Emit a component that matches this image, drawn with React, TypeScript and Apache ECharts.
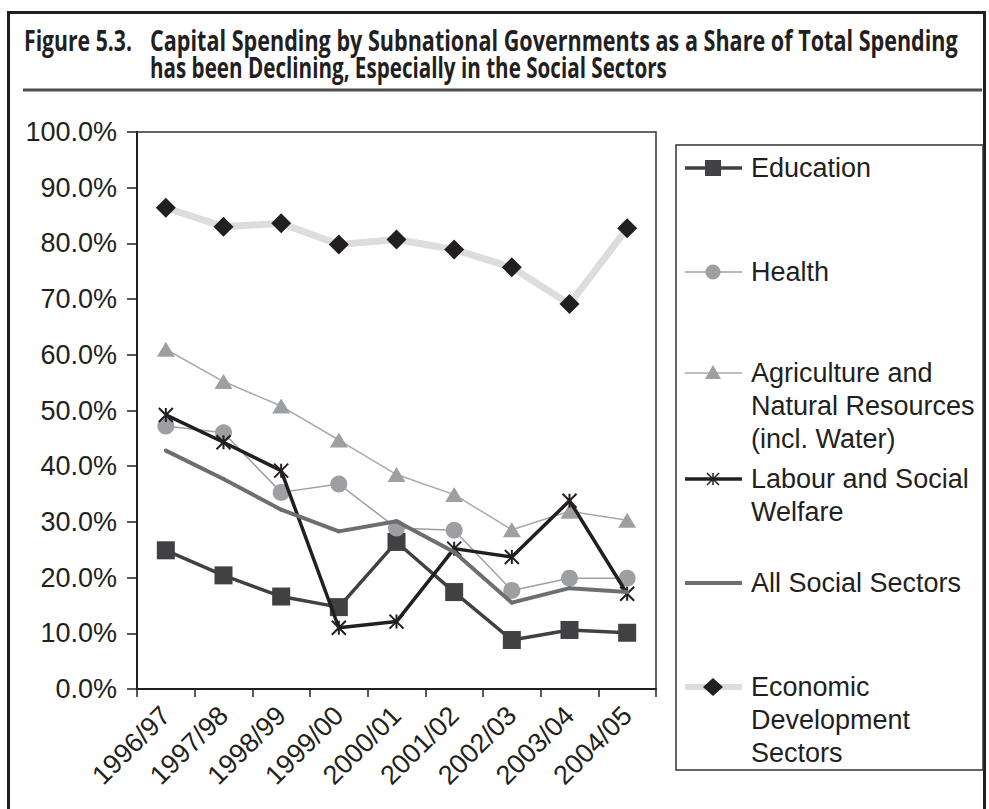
import React, { useEffect, useRef } from "react";
import * as echarts from "echarts";

const categories = ["1996/97", "1997/98", "1998/99", "1999/00", "2000/01", "2001/02", "2002/03", "2003/04", "2004/05"];
const education = [24.9, 20.4, 16.6, 14.7, 26.4, 17.4, 8.8, 10.6, 10.1];
const health = [47.2, 46.0, 35.3, 36.8, 28.9, 28.5, 17.7, 19.9, 19.9];
const agriculture = [61.0, 55.2, 50.8, 44.7, 38.5, 34.9, 28.6, 31.9, 30.3];
const labour = [49.2, 44.3, 39.2, 11.0, 12.1, 25.2, 23.7, 33.8, 17.1];
const allSocial = [42.8, 37.7, 32.2, 28.3, 30.1, 24.6, 15.5, 18.1, 17.4];
const economic = [86.4, 83.0, 83.6, 79.8, 80.7, 78.9, 75.7, 69.1, 82.7];

const seriesNames = [
  "Education",
  "Health",
  "Agriculture and Natural Resources (incl. Water)",
  "Labour and Social Welfare",
  "All Social Sectors",
  "Economic Development Sectors",
];
const legendLines = [
  ["Education"],
  ["Health"],
  ["Agriculture and", "Natural Resources", "(incl. Water)"],
  ["Labour and Social", "Welfare"],
  ["All Social Sectors"],
  ["Economic", "Development", "Sectors"],
];

const titleLead = "Figure 5.3.";
const titleLine1 = "Capital Spending by Subnational Governments as a Share of Total Spending";
const titleLine2 = "has been Declining, Especially in the Social Sectors";

const ASTERISK = "path://M0,0L10,10M0,10L10,0M5,0L5,10";
const FONT = "Liberation Sans, Arial, Helvetica, sans-serif";
const TXT = "#231f20";

export default function App() {
  const ref = useRef<HTMLDivElement>(null);
  useEffect(() => {
    document.body.style.margin = "0";
    const chart = echarts.init(ref.current!, null, { renderer: "svg" });

    const titleFont = 'bold 28px "Open Sans"';
    let sx1 = 0.75;
    let sx2 = 0.75;
    let sxLead = 0.75;
    try {
      const ctx = document.createElement("canvas").getContext("2d")!;
      ctx.font = titleFont;
      const w1 = ctx.measureText(titleLine1).width;
      if (w1 > 0) sx1 = 808 / w1;
      const w2 = ctx.measureText(titleLine2).width;
      if (w2 > 0) sx2 = 517 / w2;
      const wl = ctx.measureText(titleLead).width;
      if (wl > 0) sxLead = 108 / wl;
    } catch (e) {}

    const styles = [
      { line: "#414042", width: 3.5, marker: "#414042", symbol: "rect", size: 18 },
      { line: "#9d9fa2", width: 1.5, marker: "#9d9fa2", symbol: "circle", size: 17 },
      { line: "#a7a9ac", width: 1.5, marker: "#9d9fa2", symbol: "triangle", size: [18, 15] },
      { line: "#231f20", width: 3.5, marker: "#231f20", symbol: ASTERISK, size: 14 },
      { line: "#6d6e71", width: 4, marker: "#6d6e71", symbol: "circle", size: 4 },
      { line: "#dcdddf", width: 7, marker: "#231f20", symbol: "diamond", size: 20 },
    ];
    const datas = [education, health, agriculture, labour, allSocial, economic];

    const series = datas.map((d, i) => {
      const s = styles[i];
      const isAst = s.symbol === ASTERISK;
      return {
        name: seriesNames[i],
        type: "line",
        data: d,
        symbol: s.symbol,
        symbolSize: s.size,
        showSymbol: true,
        lineStyle: { color: s.line, width: s.width },
        itemStyle: isAst
          ? { color: s.marker, borderColor: s.marker, borderWidth: 2 }
          : { color: s.marker, borderWidth: 0 },
        z: 2 + i,
      };
    });

    const lg: any[] = [];
    lg.push({
      type: "rect",
      shape: { x: 676, y: 145, width: 307, height: 625 },
      style: { fill: "#fff", stroke: "#333", lineWidth: 1.5 },
      z: 1,
    });
    const iconY = [168, 272, 373, 479, 583, 687];
    const mx = 713;
    iconY.forEach((y, i) => {
      const s = styles[i];
      lg.push({
        type: "line",
        shape: { x1: 685, y1: y, x2: 742, y2: y },
        style: { stroke: s.line, lineWidth: i === 5 ? 6 : s.width },
        z: 2,
      });
      if (i === 0) {
        lg.push({ type: "rect", shape: { x: mx - 8, y: y - 8, width: 16, height: 16 }, style: { fill: s.marker }, z: 3 });
      } else if (i === 1) {
        lg.push({ type: "circle", shape: { cx: mx, cy: y, r: 7.5 }, style: { fill: s.marker }, z: 3 });
      } else if (i === 2) {
        lg.push({ type: "polygon", shape: { points: [[mx, y - 8], [mx + 8, y + 6], [mx - 8, y + 6]] }, style: { fill: s.marker }, z: 3 });
      } else if (i === 3) {
        const r = 6;
        [[mx - r, y - r, mx + r, y + r], [mx - r, y + r, mx + r, y - r], [mx, y - r, mx, y + r]].forEach((p) =>
          lg.push({ type: "line", shape: { x1: p[0], y1: p[1], x2: p[2], y2: p[3] }, style: { stroke: s.marker, lineWidth: 1.5 }, z: 3 })
        );
      } else if (i === 5) {
        lg.push({ type: "polygon", shape: { points: [[mx, y - 9], [mx + 10, y], [mx, y + 9], [mx - 10, y]] }, style: { fill: s.marker }, z: 3 });
      }
      lg.push({
        type: "text",
        x: 751,
        y: y - 16.5,
        style: {
          text: legendLines[i].join("\n"),
          font: `27px ${FONT}`,
          fill: TXT,
          verticalAlign: "top",
          align: "left",
          lineHeight: 33,
        },
        z: 3,
      });
    });

    const graphic: any[] = [
      {
        type: "rect",
        shape: { x: 8.5, y: 12.5, width: 976, height: 830 },
        style: { fill: "none", stroke: "#231f20", lineWidth: 3 },
        silent: true,
      },
      {
        type: "line",
        shape: { x1: 23, y1: 90, x2: 982, y2: 90 },
        style: { stroke: "#4d4d4f", lineWidth: 3 },
      },
      {
        type: "text",
        x: 24,
        y: 40,
        scaleX: sxLead,
        style: { text: titleLead, font: titleFont, fill: TXT, verticalAlign: "middle", align: "left" },
      },
      {
        type: "text",
        x: 150,
        y: 40,
        scaleX: sx1,
        style: { text: titleLine1, font: titleFont, fill: TXT, verticalAlign: "middle", align: "left" },
      },
      {
        type: "text",
        x: 150,
        y: 67,
        scaleX: sx2,
        style: { text: titleLine2, font: titleFont, fill: TXT, verticalAlign: "middle", align: "left" },
      },
      ...lg,
    ];

    chart.setOption({
      animation: false,
      backgroundColor: "#fff",
      grid: { left: 137, right: 333, top: 132, bottom: 120, show: true, borderColor: "#333", borderWidth: 1.5, backgroundColor: "transparent" },
      xAxis: {
        type: "category",
        data: categories,
        boundaryGap: true,
        axisLine: { lineStyle: { color: "#231f20", width: 2 } },
        axisTick: { show: true, length: 8, interval: 0, lineStyle: { color: "#231f20", width: 1.5 } },
        axisLabel: { rotate: 45, interval: 0, margin: 22, fontSize: 27, fontFamily: FONT, color: TXT },
      },
      yAxis: {
        type: "value",
        min: 0,
        max: 100,
        interval: 10,
        axisLine: { show: true, lineStyle: { color: "#231f20", width: 2 } },
        axisTick: { show: true, length: 10, lineStyle: { color: "#231f20", width: 1.5 } },
        splitLine: { show: false },
        axisLabel: { margin: 20, fontSize: 27, fontFamily: FONT, color: TXT, formatter: (v: number) => v.toFixed(1) + "%" },
      },
      series,
      graphic,
    });

    return () => chart.dispose();
  }, []);
  return <div ref={ref} style={{ width: 989, height: 809 }} />;
}
